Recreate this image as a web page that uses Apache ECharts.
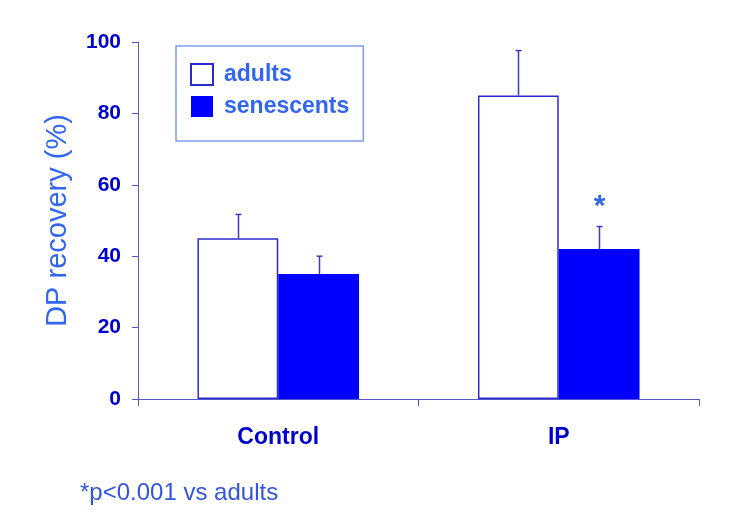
<!DOCTYPE html>
<html>
<head>
<meta charset="utf-8">
<script src="https://cdn.jsdelivr.net/npm/echarts@6/dist/echarts.min.js"></script>
<style>
  html, body { margin: 0; padding: 0; background: #fff; }
  #main { width: 736px; height: 526px; }
</style>
</head>
<body>
<div id="main"></div>
<script>
// 数据
const categories = ['Control', 'IP'];
const adults = [45, 85];
const adultsErr = [6.7, 12.6];
const senescents = [35, 42];
const senescentsErr = [5, 6.3];
const sigMarks = ['', '*'];
const yTicks = [0, 20, 40, 60, 80, 100];

const BAR_FRAC = 0.288;
const dark = '#0000cc';

const chart = echarts.init(document.getElementById('main'));

// 误差线 (side: -1 左柱, +1 右柱)
function errorSeries(name, values, errs, side, marks) {
  return {
    name: name + ' err',
    type: 'custom',
    z: 5,
    data: values.map((v, i) => [i, v, v + errs[i]]),
    renderItem: function (params, api) {
      const i = api.value(0);
      const base = api.coord([i, api.value(1)]);
      const top = api.coord([i, api.value(2)]);
      const bw = api.size([1, 0])[0] * BAR_FRAC;
      const x = Math.round(base[0] + side * bw / 2) + 0.5;
      const children = [
        { type: 'line', shape: { x1: x, y1: base[1], x2: x, y2: top[1] },
          style: { stroke: '#3a3acc', lineWidth: 1.5 } },
        { type: 'line', shape: { x1: x - 3, y1: top[1], x2: x + 3, y2: top[1] },
          style: { stroke: '#3a3acc', lineWidth: 1.5 } }
      ];
      if (marks && marks[params.dataIndex]) {
        children.push({
          type: 'text',
          style: {
            text: marks[params.dataIndex], x: x, y: top[1] - 20,
            align: 'center', verticalAlign: 'middle',
            font: 'bold 30px "Liberation Sans", Arial', fill: '#3366ee'
          }
        });
      }
      return { type: 'group', children: children };
    }
  };
}

const option = {
  backgroundColor: '#fff',
  animation: false,
  grid: { left: 138, right: 37, top: 42, bottom: 127 },
  legend: {
    orient: 'vertical',
    left: 176,
    top: 46,
    padding: [17, 14, 23, 14],
    itemGap: 9,
    itemWidth: 22,
    itemHeight: 21,
    icon: 'rect',
    borderColor: '#7f9cef',
    borderWidth: 1.5,
    data: ['adults', 'senescents'],
    textStyle: { color: '#3366ee', fontSize: 23, fontWeight: 'bold',
      fontFamily: '"Liberation Sans", Arial', padding: [0, 0, 0, 6] }
  },
  xAxis: {
    type: 'category',
    data: categories,
    axisLine: { lineStyle: { color: '#5555cc', width: 1 } },
    axisTick: { show: true, length: 7, alignWithLabel: false, lineStyle: { color: '#5555cc' } },
    axisLabel: { color: dark, fontSize: 23, fontWeight: 'bold',
      fontFamily: '"Liberation Sans", Arial', margin: 27 }
  },
  yAxis: {
    type: 'value',
    min: yTicks[0],
    max: yTicks[yTicks.length - 1],
    interval: yTicks[1] - yTicks[0],
    name: 'DP recovery (%)',
    nameLocation: 'middle',
    nameGap: 66,
    nameTextStyle: { color: '#3366ee', fontSize: 29, fontFamily: '"Liberation Sans", Arial' },
    splitLine: { show: false },
    axisLine: { show: true, lineStyle: { color: '#5555cc', width: 1 } },
    axisTick: { show: true, length: 6, lineStyle: { color: '#5555cc' } },
    axisLabel: { color: dark, fontSize: 21, fontWeight: 'bold',
      fontFamily: '"Liberation Sans", Arial', margin: 17 }
  },
  series: [
    {
      name: 'adults',
      type: 'bar',
      data: adults,
      barWidth: (BAR_FRAC * 100) + '%',
      barGap: '0%',
      itemStyle: { color: '#ffffff', borderColor: '#2b2bcc', borderWidth: 1.5 }
    },
    {
      name: 'senescents',
      type: 'bar',
      data: senescents,
      barWidth: (BAR_FRAC * 100) + '%',
      barGap: '0%',
      itemStyle: { color: '#0000ff', borderColor: '#0000ff', borderWidth: 0 }
    },
    errorSeries('adults', adults, adultsErr, -1, null),
    errorSeries('senescents', senescents, senescentsErr, 1, sigMarks)
  ],
  graphic: [
    {
      type: 'text',
      left: 80,
      top: 481,
      style: { text: '*p<0.001 vs adults', fill: '#3355dd',
        font: '24px "Liberation Sans", Arial' }
    }
  ]
};

chart.setOption(option);
</script>
</body>
</html>
